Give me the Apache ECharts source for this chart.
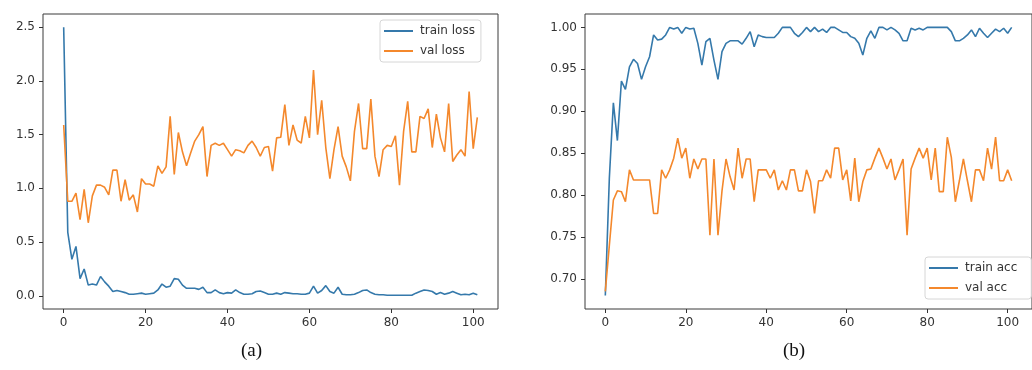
<!DOCTYPE html>
<html lang="en">
<head>
    <meta charset="UTF-8" />
    <title>loss / acc</title>
    <script src="https://cdn.jsdelivr.net/npm/echarts@6/dist/echarts.min.js"></script>
    <style>
        html, body { margin: 0; padding: 0; background: #fff; }
        #chart { width: 1032px; height: 370px; }
    </style>
</head>
<body>
    <div id="chart"></div>
    <script>
        // values, one per epoch (0..101)
        var trainLoss = [2.5, 0.59, 0.34, 0.46, 0.16, 0.25, 0.10, 0.11, 0.10, 0.18,
            0.13, 0.09, 0.04, 0.05, 0.04, 0.03, 0.015, 0.015, 0.02, 0.025,
            0.015, 0.02, 0.025, 0.055, 0.11, 0.08, 0.09, 0.16, 0.155, 0.10,
            0.07, 0.07, 0.07, 0.06, 0.08, 0.03, 0.03, 0.055, 0.03, 0.02,
            0.03, 0.025, 0.055, 0.03, 0.015, 0.015, 0.02, 0.04, 0.045, 0.03,
            0.015, 0.015, 0.025, 0.015, 0.03, 0.025, 0.02, 0.02, 0.015, 0.015,
            0.025, 0.09, 0.025, 0.05, 0.095, 0.04, 0.025, 0.08, 0.015, 0.01,
            0.01, 0.015, 0.03, 0.05, 0.055, 0.03, 0.015, 0.01, 0.01, 0.005,
            0.005, 0.005, 0.005, 0.005, 0.005, 0.005, 0.025, 0.04, 0.055, 0.05,
            0.04, 0.015, 0.03, 0.015, 0.025, 0.04, 0.025, 0.01, 0.015, 0.01,
            0.025, 0.01];
        var valLoss = [1.59, 0.88, 0.88, 0.955, 0.71, 0.99, 0.68, 0.93, 1.03, 1.03,
            1.01, 0.94, 1.17, 1.17, 0.88, 1.08, 0.89, 0.94, 0.78, 1.09,
            1.04, 1.04, 1.02, 1.21, 1.14, 1.20, 1.67, 1.13, 1.52, 1.34,
            1.21, 1.33, 1.44, 1.50, 1.575, 1.11, 1.40, 1.42, 1.40, 1.42,
            1.36, 1.30, 1.36, 1.35, 1.33, 1.40, 1.44, 1.38, 1.30, 1.38,
            1.39, 1.16, 1.47, 1.475, 1.78, 1.40, 1.59, 1.45, 1.42, 1.67,
            1.47, 2.10, 1.50, 1.82, 1.38, 1.09, 1.36, 1.575, 1.30, 1.20,
            1.07, 1.53, 1.79, 1.37, 1.37, 1.83, 1.30, 1.11, 1.36, 1.40,
            1.39, 1.49, 1.03, 1.53, 1.81, 1.34, 1.34, 1.67, 1.65, 1.74,
            1.38, 1.69, 1.47, 1.34, 1.79, 1.25, 1.31, 1.36, 1.30, 1.90,
            1.37, 1.66];
        var trainAcc = [0.68, 0.82, 0.91, 0.865, 0.936, 0.926, 0.953, 0.962, 0.957, 0.938,
            0.953, 0.965, 0.991, 0.985, 0.986, 0.991, 1.0, 0.998, 1.0, 0.993,
            1.0, 0.998, 0.999, 0.981, 0.955, 0.983, 0.987, 0.961, 0.938, 0.971,
            0.981, 0.984, 0.984, 0.984, 0.98, 0.987, 0.995, 0.977, 0.991, 0.989,
            0.988, 0.988, 0.988, 0.993, 1.0, 1.0, 1.0, 0.993, 0.989, 0.994,
            1.0, 0.995, 1.0, 0.995, 0.998, 0.994, 1.0, 1.0, 0.997, 0.994,
            0.994, 0.989, 0.987, 0.981, 0.967, 0.987, 0.996, 0.987, 1.0, 1.0,
            0.997, 1.0, 0.997, 0.993, 0.984, 0.984, 0.999, 0.997, 0.999, 0.997,
            1.0, 1.0, 1.0, 1.0, 1.0, 1.0, 0.995, 0.984, 0.984, 0.987,
            0.991, 0.997, 0.989, 0.999, 0.993, 0.988, 0.993, 0.998, 0.995, 0.999,
            0.993, 1.0];
        var valAcc = [0.685, 0.74, 0.794, 0.805, 0.804, 0.792, 0.83, 0.818, 0.818, 0.818,
            0.818, 0.818, 0.778, 0.778, 0.83, 0.82, 0.83, 0.844, 0.868, 0.844,
            0.856, 0.82, 0.843, 0.831, 0.843, 0.843, 0.752, 0.843, 0.752, 0.805,
            0.843, 0.822, 0.806, 0.856, 0.82, 0.843, 0.843, 0.792, 0.83, 0.83,
            0.83, 0.82, 0.83, 0.806, 0.817, 0.806, 0.83, 0.83, 0.805, 0.805,
            0.83, 0.816, 0.778, 0.817, 0.817, 0.83, 0.82, 0.856, 0.856, 0.818,
            0.83, 0.793, 0.844, 0.792, 0.816, 0.83, 0.831, 0.844, 0.856, 0.844,
            0.831, 0.843, 0.818, 0.83, 0.843, 0.752, 0.831, 0.844, 0.856, 0.844,
            0.856, 0.818, 0.856, 0.804, 0.804, 0.869, 0.845, 0.792, 0.817, 0.843,
            0.817, 0.792, 0.83, 0.83, 0.817, 0.856, 0.831, 0.869, 0.817, 0.817,
            0.83, 0.817];

        var xTicks = [0, 20, 40, 60, 80, 100];
        var lossTicks = [0, 0.5, 1.0, 1.5, 2.0, 2.5];
        var accTicks = [0.70, 0.75, 0.80, 0.85, 0.90, 0.95, 1.00];

        var BLUE = "#3579ab";
        var ORANGE = "#f4882c";
        var TXT = "#333333";

        function pairs(arr) {
            return arr.map(function (v, i) { return [i, v]; });
        }

        function xAxisOf(idx) {
            return {
                type: "value", gridIndex: idx, min: -5.05, max: 106.05,
                axisLine: { show: false, onZero: false },
                splitLine: { show: false },
                axisTick: { show: true, length: 4, customValues: xTicks, lineStyle: { color: TXT } },
                axisLabel: {
                    customValues: xTicks, margin: 8, color: TXT,
                    fontFamily: "DejaVu Sans", fontSize: 12
                }
            };
        }

        function yAxisOf(idx, min, max, ticks, digits) {
            return {
                type: "value", gridIndex: idx, min: min, max: max,
                axisLine: { show: false, onZero: false },
                splitLine: { show: false },
                axisTick: { show: true, length: 4, customValues: ticks, lineStyle: { color: TXT } },
                axisLabel: {
                    customValues: ticks, margin: 8, color: TXT,
                    fontFamily: "DejaVu Sans", fontSize: 12,
                    formatter: function (v) { return Number(v).toFixed(digits); }
                }
            };
        }

        function line(name, arr, color, idx) {
            return {
                name: name, type: "line", data: pairs(arr),
                xAxisIndex: idx, yAxisIndex: idx,
                showSymbol: false, symbol: "none",
                lineStyle: { color: color, width: 1.6 },
                itemStyle: { color: color }
            };
        }

        function legendOf(names, left, top, padRight) {
            return {
                data: names, orient: "vertical", left: left, top: top,
                icon: "rect", itemWidth: 29, itemHeight: 2, itemGap: 8,
                padding: [5, padRight, 5, 4],
                backgroundColor: "rgba(255,255,255,0.85)",
                borderColor: "#d6d6d6", borderWidth: 1, borderRadius: 3,
                textStyle: { color: TXT, fontFamily: "DejaVu Sans", fontSize: 12, padding: [0, 0, 0, 2] }
            };
        }

        var myChart = echarts.init(document.getElementById("chart"), null, { renderer: "canvas" });
        var option = {
            animation: false,
            backgroundColor: "#ffffff",
            grid: [
                { left: 43, top: 14, width: 455, height: 295, show: true, borderColor: "#3a3a3a", borderWidth: 1, backgroundColor: "transparent" },
                { left: 585, top: 14, width: 453.5, height: 295, show: true, borderColor: "#3a3a3a", borderWidth: 1, backgroundColor: "transparent" }
            ],
            xAxis: [xAxisOf(0), xAxisOf(1)],
            yAxis: [
                yAxisOf(0, -0.1225, 2.6225, lossTicks, 1),
                yAxisOf(1, 0.664, 1.016, accTicks, 2)
            ],
            legend: [
                legendOf(["train loss", "val loss"], 380, 20, 6),
                legendOf(["train acc", "val acc"], 925, 257, 14)
            ],
            series: [
                line("train loss", trainLoss, BLUE, 0),
                line("val loss", valLoss, ORANGE, 0),
                line("train acc", trainAcc, BLUE, 1),
                line("val acc", valAcc, ORANGE, 1)
            ],
            graphic: [
                { type: "text", left: 241, top: 342, style: { text: "(a)", font: "19px 'Liberation Serif'", fill: "#111" } },
                { type: "text", left: 783, top: 342, style: { text: "(b)", font: "19px 'Liberation Serif'", fill: "#111" } }
            ]
        };
        myChart.setOption(option);
    </script>
</body>
</html>
